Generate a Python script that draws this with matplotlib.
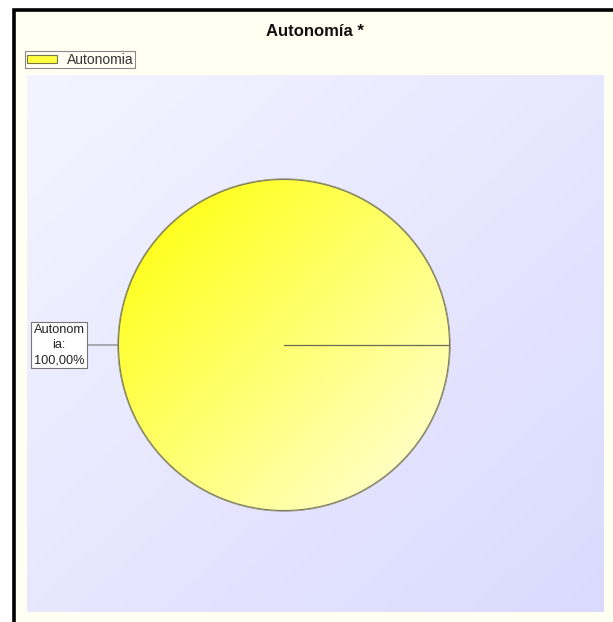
import matplotlib
matplotlib.use('Agg')
import matplotlib.pyplot as plt
import numpy as np
from matplotlib.patches import Rectangle
from matplotlib.colors import LinearSegmentedColormap

# Chart data
categories = ["Autonomia"]
values = [100.0]
label_texts = ["Autonom\nia:\n100,00%"]
title = "Autonomía *"

W, H = 613, 622
plt.rcParams['font.family'] = ['Liberation Sans', 'DejaVu Sans']

fig = plt.figure(figsize=(W / 100, H / 100), dpi=100, facecolor="white")

# Background layer in pixel coordinates
bg = fig.add_axes([0, 0, 1, 1])
bg.set_xlim(0, W)
bg.set_ylim(H, 0)
bg.axis("off")

# chart panel (cream) with black frame
bg.add_patch(Rectangle((14, 10), 640, 640, facecolor="#FFFFF2",
                       edgecolor="black", linewidth=2.6, zorder=1))

# plot area with lavender gradient
px0, px1, py0, py1 = 27, 604, 75, 612
gx, gy = np.meshgrid(np.linspace(0, 1, 200), np.linspace(0, 1, 200))
grad = (gx + gy) / 2
area_cmap = LinearSegmentedColormap.from_list("area", ["#F4F4FF", "#DADAFF"])
bg.imshow(grad, cmap=area_cmap, extent=(px0, px1, py1, py0),
          aspect="auto", zorder=2, interpolation="bilinear")

# Title
fig.text(315 / W, 1 - 31 / H, title, ha="center", va="center",
         fontsize=12, fontweight="bold", color="#111111")

# Pie axes
cx, cy, r = 284, 345, 166
pie_ax = fig.add_axes([(cx - r) / W, 1 - (cy + r) / H, 2 * r / W, 2 * r / H])
pie_ax.set_zorder(3)
wedges, _ = pie_ax.pie(values, startangle=0, counterclock=True, radius=1,
                       colors=["#FFFF60"],
                       wedgeprops=dict(edgecolor="#8A8A6A", linewidth=0.9))
pie_ax.set_xlim(-1, 1)
pie_ax.set_ylim(-1, 1)
pie_ax.axis("off")

# gradient fill on the slice
pie_cmap = LinearSegmentedColormap.from_list("pie", ["#FFFF00", "#FFFF70", "#FFFFE0"])
gx2, gy2 = np.meshgrid(np.linspace(0, 1, 300), np.linspace(0, 1, 300))
img = pie_ax.imshow((gx2 + gy2) / 2, cmap=pie_cmap, extent=(-1, 1, -1, 1),
                    origin="upper", zorder=1.5, interpolation="bilinear")
img.set_clip_path(wedges[0])
wedges[0].set_zorder(1)
wedges[0].set_facecolor("none")
edge_copy = plt.Circle((0, 0), 0.997, fill=False, edgecolor="#7A7A66",
                       linewidth=0.8, zorder=2)
pie_ax.add_patch(edge_copy)
# slice start line
pie_ax.plot([0, 1], [0, 0], color="#6A6A5A", linewidth=0.9, zorder=2)

# Label with leader line
for wedge, txt in zip(wedges, label_texts):
    ang = np.deg2rad((wedge.theta1 + wedge.theta2) / 2)
    ex, ey = np.cos(ang), np.sin(ang)
    pie_ax.annotate(txt, xy=(ex, ey), xytext=(-1.355, 0),
                    ha="center", va="center", fontsize=9.2,
                    color="#222222", linespacing=1.35,
                    bbox=dict(boxstyle="square,pad=0.18", facecolor="white",
                              edgecolor="#777777", linewidth=0.8),
                    arrowprops=dict(arrowstyle="-", color="#777777",
                                    linewidth=0.8, shrinkA=0, shrinkB=0),
                    annotation_clip=False, zorder=4)

# Legend
leg = fig.legend([wedges[0]], categories, loc="upper left",
                 bbox_to_anchor=(25 / W, 1 - 51 / H), fontsize=10,
                 frameon=True, fancybox=False, framealpha=1,
                 edgecolor="#888888", handlelength=2.2, handleheight=0.5,
                 borderpad=0.12, handletextpad=0.7, borderaxespad=0)
leg.get_frame().set_linewidth(0.8)
leg.get_frame().set_facecolor("#FFFFF6")
for t in leg.get_texts():
    t.set_color("#333333")
for h in leg.legend_handles:
    h.set_facecolor("#FFFF40")
    h.set_edgecolor("#777744")
    h.set_linewidth(0.8)

fig.savefig("out.png", dpi=100, facecolor="white")
